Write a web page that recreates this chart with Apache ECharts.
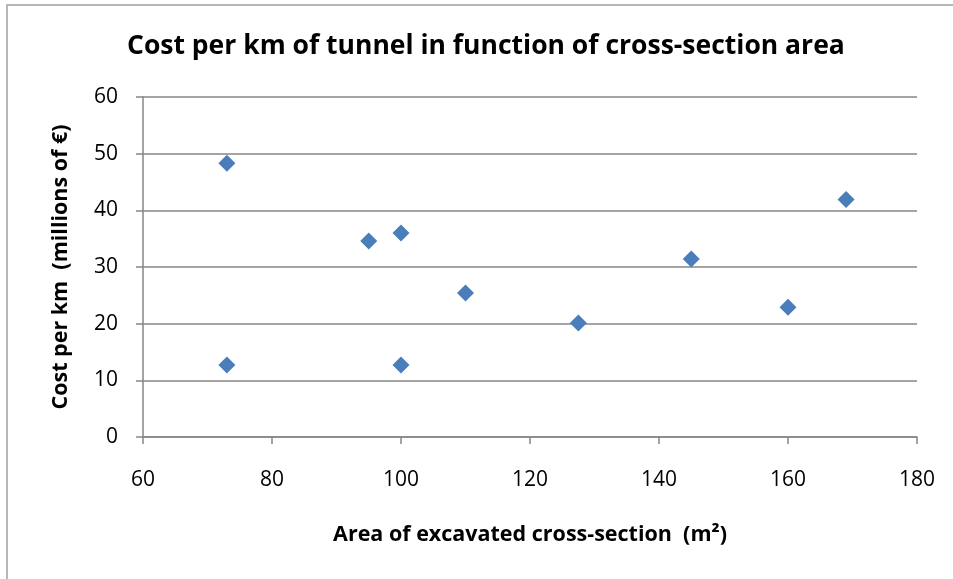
<!DOCTYPE html>
<html>
<head>
<meta charset="utf-8">
<script src="https://cdn.jsdelivr.net/npm/echarts@6/dist/echarts.min.js"></script>
<style>
  html, body { margin: 0; padding: 0; background: #fff; }
  #chart { width: 953px; height: 579px; }
</style>
</head>
<body>
<div id="chart"></div>
<script>
// cross-section area (m²) and cost per km (millions of €)
const areas = [73, 73, 95, 100, 100, 110, 127.5, 145, 160, 169]
const costs = [48.3, 12.7, 34.6, 36.0, 12.7, 25.4, 20.1, 31.4, 22.9, 41.9]
const xTicks = [60, 180, 20]
const yTicks = [0, 60, 10]

const points = areas.map((a, i) => [a, costs[i]])
const font = '"Open Sans", "Noto Sans", sans-serif'
const grey = '#868686'

let chart = echarts.init(document.getElementById('chart'))

chart.setOption({
  animation: false,
  graphic: [
    {
      type: 'rect',
      shape: { x: 7, y: 5, width: 1000, height: 1000 },
      style: { fill: 'none', stroke: '#a0a0a0', lineWidth: 1.5 },
    },
  ],
  title: {
    text: 'Cost per km of tunnel in function of cross-section area',
    left: 122,
    top: 28,
    textStyle: {
      fontFamily: font,
      fontWeight: 'bold',
      fontSize: 26.5,
      color: '#000',
    },
  },
  grid: {
    left: 143,
    right: 36,
    top: 97,
    bottom: 142,
  },
  xAxis: {
    type: 'value',
    min: xTicks[0],
    max: xTicks[1],
    interval: xTicks[2],
    name: 'Area of excavated cross-section  (m²)',
    nameLocation: 'middle',
    nameGap: 87,
    nameTextStyle: {
      fontFamily: font,
      fontWeight: 'bold',
      fontSize: 21.5,
      color: '#000',
    },
    axisLine: { show: true, lineStyle: { color: grey, width: 1.5 } },
    axisTick: { show: true, length: 7, lineStyle: { color: grey, width: 1.5 } },
    axisLabel: { fontFamily: font, fontSize: 21, color: '#000', margin: 33 },
    splitLine: { show: false },
  },
  yAxis: {
    type: 'value',
    min: yTicks[0],
    max: yTicks[1],
    interval: yTicks[2],
    name: 'Cost per km  (millions of €)',
    nameLocation: 'middle',
    nameGap: 71,
    nameTextStyle: {
      fontFamily: font,
      fontWeight: 'bold',
      fontSize: 21.5,
      color: '#000',
    },
    axisLine: { show: true, lineStyle: { color: grey, width: 1.5 } },
    axisTick: { show: true, length: 7, lineStyle: { color: grey, width: 1.5 } },
    axisLabel: { fontFamily: font, fontSize: 21, color: '#000', margin: 25 },
    splitLine: { show: true, lineStyle: { color: grey, width: 1.5 } },
  },
  series: [
    {
      type: 'scatter',
      data: points,
      symbol: 'diamond',
      symbolSize: [17, 17],
      itemStyle: { color: '#4a7ebb', opacity: 1 },
    },
  ],
})
</script>
</body>
</html>
